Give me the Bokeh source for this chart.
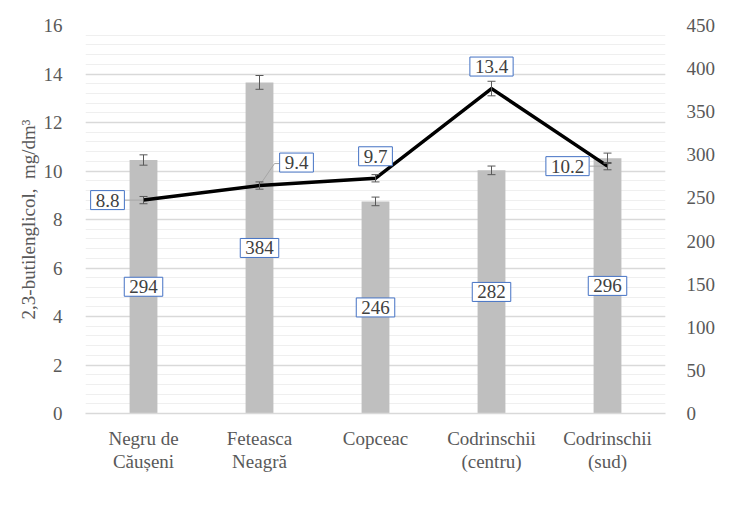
from bokeh.plotting import figure
from bokeh.models import (Range1d, LinearAxis, FactorRange, ColumnDataSource, Whisker, TeeHead,
                          Label, Legend, LegendItem, SingleIntervalTicker, BoxAnnotation)
from bokeh.embed import file_html
from bokeh.resources import INLINE

# ---------------- data ----------------
categories = ["Negru de\nCăușeni", "Feteasca\nNeagră", "Copceac", "Codrinschii\n(centru)", "Codrinschii\n(sud)"]
butilenglicol = [294, 384, 246, 282, 296]          # bars, right axis
butilenglicol_err = [6, 8, 5, 5, 6]
glicerol = [8.8, 9.4, 9.7, 13.4, 10.2]              # line, left axis
glicerol_err = [0.15, 0.15, 0.15, 0.3, 0.15]
left_range = (0, 16)
right_range = (0, 450)

# ---------------- style ----------------
FONT = "Liberation Serif"
FS = "19px"
TXT = "#595959"
LBL = "#404040"
BOX = "#4472C4"
# label offsets (px) for line data labels
gl_dx = [-36, 37, 0, 0, -40]
gl_dy = [0, 23, 22, 22, 0]
PX_CAT = 116.0      # px per category
PX_UNIT = 24.25     # px per left-axis unit
leaders = {0: [(0, 0), (-19, 0)], 1: [(0, 0), (15, 22), (20, 22)], 4: [(0, 0), (-18, 0)]}

src = ColumnDataSource(dict(
    cat=categories,
    bg=butilenglicol,
    bg_up=[v + e for v, e in zip(butilenglicol, butilenglicol_err)],
    bg_lo=[v - e for v, e in zip(butilenglicol, butilenglicol_err)],
    gl=glicerol,
    gl_up=[v + e for v, e in zip(glicerol, glicerol_err)],
    gl_lo=[v - e for v, e in zip(glicerol, glicerol_err)],
))

p = figure(x_range=FactorRange(factors=categories, range_padding=0),
           y_range=Range1d(*left_range),
           width=734, height=503, output_backend="svg", toolbar_location=None,
           min_border_left=85, min_border_right=69, min_border_top=25, min_border_bottom=90)
p.extra_y_ranges = {"right": Range1d(*right_range)}
p.outline_line_color = None
p.background_fill_color = "white"
p.border_fill_color = "white"

# chart border (only top and left edges are visible in the reference crop)
p.add_layout(BoxAnnotation(left=1.5, right=2000, top=5.5, bottom=2000,
                           left_units="canvas", right_units="canvas",
                           top_units="canvas", bottom_units="canvas",
                           fill_alpha=0, line_color="#404040", line_width=1.5, level="overlay"))

# axes
p.yaxis.ticker = SingleIntervalTicker(interval=2, num_minor_ticks=5)
p.yaxis.axis_line_color = None
p.yaxis.major_tick_line_color = None
p.yaxis.minor_tick_line_color = None
p.yaxis.major_label_standoff = 17
p.yaxis.major_label_text_font = FONT
p.yaxis.major_label_text_font_size = FS
p.yaxis.major_label_text_color = TXT
p.yaxis.axis_label = "2,3-butilenglicol,\u00a0 mg/dm³"
p.yaxis.axis_label_text_font = FONT
p.yaxis.axis_label_text_font_size = FS
p.yaxis.axis_label_text_font_style = "normal"
p.yaxis.axis_label_text_color = TXT
p.yaxis.axis_label_standoff = 2

ra = LinearAxis(y_range_name="right", ticker=SingleIntervalTicker(interval=50, num_minor_ticks=0))
ra.axis_line_color = None
ra.major_tick_line_color = None
ra.minor_tick_line_color = None
ra.major_label_standoff = 15
ra.major_label_text_font = FONT
ra.major_label_text_font_size = FS
ra.major_label_text_color = TXT
p.add_layout(ra, "right")

p.xaxis.axis_line_color = "#D9D9D9"
p.xaxis.axis_line_width = 1.5
p.xaxis.major_tick_line_color = None
p.xaxis.minor_tick_line_color = None
p.xaxis.major_label_standoff = 8
p.xaxis.major_label_text_font = FONT
p.xaxis.major_label_text_font_size = FS
p.xaxis.major_label_text_color = TXT
p.xaxis.major_label_text_line_height = 1.1

p.xgrid.grid_line_color = None
p.ygrid.grid_line_color = "#D9D9D9"
p.ygrid.grid_line_width = 1.5
p.ygrid.minor_grid_line_color = "#EFEFEF"
p.ygrid.minor_grid_line_width = 1

# bars
bars = p.vbar(x="cat", top="bg", width=0.24, source=src, y_range_name="right",
              fill_color="#BFBFBF", line_color=None)

# leader lines for line labels
lx, ly = [], []
for i, pts in leaders.items():
    lx.append([i + 0.5 + dx / PX_CAT for dx, dy in pts])
    ly.append([glicerol[i] + dy / PX_UNIT for dx, dy in pts])
p.multi_line(xs=lx, ys=ly, line_color="#A6A6A6", line_width=1)

# line
line = p.line(x="cat", y="gl", source=src, line_color="black", line_width=3.5, line_join="miter")

# error bars
for up, lo, rng in (("bg_up", "bg_lo", "right"), ("gl_up", "gl_lo", "default")):
    w = Whisker(base="cat", upper=up, lower=lo, source=src, y_range_name=rng,
                line_color="#595959", line_width=1, level="annotation",
                upper_head=TeeHead(size=8, line_color="#595959", line_width=1),
                lower_head=TeeHead(size=8, line_color="#595959", line_width=1))
    p.add_layout(w)

pad = dict(left=5, right=5, top=3, bottom=3)
lab_style = dict(text_align="center", text_baseline="middle", text_font=FONT, text_font_size=FS,
                 text_color=LBL, background_fill_color="white", border_line_color=BOX,
                 border_line_width=1, padding=pad)
for i, v in enumerate(butilenglicol):
    p.add_layout(Label(x=i + 0.5, y=v / 2, text=str(v), y_range_name="right", **lab_style))
for i, (v, dx, dy) in enumerate(zip(glicerol, gl_dx, gl_dy)):
    p.add_layout(Label(x=i + 0.5, y=v, text=str(v), x_offset=dx, y_offset=dy, **lab_style))

# right axis title
p.add_layout(Label(x=5.48, y=8, text="glicerol,\u00a0 g/dm³", angle=90, angle_units="deg",
                   text_align="center", text_baseline="middle", text_font=FONT,
                   text_font_size=FS, text_color=TXT))

legend = Legend(items=[LegendItem(label="2,3-butilenglicol", renderers=[bars]),
                       LegendItem(label="glicerol", renderers=[line])],
                orientation="horizontal", location=(159, -90), border_line_color=None,
                background_fill_alpha=0, label_text_font=FONT, label_text_font_size=FS,
                label_text_color=TXT, glyph_width=31, glyph_height=8, spacing=18,
                label_height=18, padding=0, margin=0, label_standoff=3)
p.add_layout(legend)

open("out.html", "w").write(file_html(p, INLINE))
